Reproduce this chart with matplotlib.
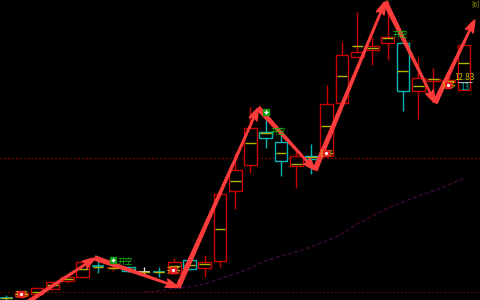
import numpy as np
import matplotlib.pyplot as plt
from matplotlib.patches import Rectangle

plt.rcParams['font.family'] = ['Noto Sans CJK SC', 'DejaVu Sans']

# daily candles (open, close, high, low) and average price of the day
opens = [7.46, 7.50, 7.55, 7.68, 7.88, 7.98, 8.24, 8.19, 8.22, 8.10, 8.11,
         8.08, 8.40, 8.20, 8.38, 10.13, 10.78, 11.60, 11.35, 10.75, 11.00,
         11.00, 12.33, 13.48, 13.65, 13.83, 13.83, 12.63, 12.88, 12.85, 12.65]
closes = [7.45, 7.58, 7.70, 7.85, 7.98, 8.35, 8.22, 8.21, 8.13, 8.10, 8.09,
          8.35, 8.18, 8.35, 10.05, 10.65, 11.70, 11.45, 10.88, 11.00, 10.93,
          12.30, 13.53, 13.60, 13.75, 13.98, 12.63, 12.95, 12.93, 12.90, 13.78]
highs = [7.53, 7.63, 7.73, 7.88, 8.00, 8.38, 8.45, 8.28, 8.25, 8.22, 8.22,
         8.45, 8.48, 8.53, 10.08, 11.08, 12.23, 11.98, 11.60, 11.15, 11.30,
         12.78, 13.85, 14.60, 13.98, 14.88, 13.85, 13.48, 13.20, 13.15, 13.78]
lows = [7.40, 7.45, 7.53, 7.65, 7.83, 7.95, 8.08, 8.13, 8.10, 8.00, 7.98,
        8.05, 8.15, 7.98, 8.23, 9.68, 10.58, 11.20, 10.50, 10.20, 10.55,
        10.98, 12.33, 13.48, 13.28, 13.40, 12.13, 11.93, 12.58, 12.83, 12.65]
avg_price = [7.45, 7.55, 7.60, 7.78, 7.93, 8.18, 8.22, 8.20, 8.18, 8.10, 8.10,
             8.25, 8.28, 8.30, 9.18, 10.38, 11.33, 11.58, 11.08, 10.80, 10.98,
             11.75, 13.00, 13.75, 13.70, 13.95, 13.13, 12.75, 12.93, 12.88, 13.33]

# long moving average (starts at candle 9)
ma_start = 9
ma_vals = [7.60, 7.63, 7.68, 7.73, 7.80, 7.93, 8.05, 8.20, 8.38, 8.50, 8.60,
           8.73, 8.88, 9.05, 9.30, 9.50, 9.70, 9.85, 10.00, 10.13, 10.28, 10.45]

# zigzag arrow turning points (candle position, price)
zig_x = [-0.4, 5.8, 11.25, 16.5, 20.23, 24.82, 28.1, 30.7]
zig_y = [6.90, 8.45, 7.72, 12.20, 10.65, 14.85, 12.33, 14.40]

# signals
long_idx = [1, 11, 21, 29]
long_label_y = [7.53, 8.13, 11.05, 12.75]
short_idx = [7, 17, 25]
short_label_y = [8.35, 11.60, 14.03]

level_hi = 10.95
level_lo = 7.60
last_price = '12.83'
last_vol = '13'

RED = '#c80000'
CYAN = '#00b4b4'
OLIVE = '#b4b400'
ARROW = '#ff3c3c'

fig = plt.figure(figsize=(4.8, 3.0), dpi=100)
fig.patch.set_facecolor('black')
ax = fig.add_axes([0, 0, 1, 1])
ax.set_facecolor('black')
ax.set_xlim(-0.426, 31.05)
ax.set_ylim(7.4, 14.9)
ax.axis('off')

w = 0.84
for i in range(len(opens)):
    o, c, h, l = opens[i], closes[i], highs[i], lows[i]
    if c > o:
        col = RED
    elif c < o:
        col = CYAN
    else:
        col = '#e6e6e6'
    ax.vlines(i, l, h, color=col, lw=1, zorder=1)
    if abs(c - o) < 0.03:
        ax.hlines(o, i - w / 2, i + w / 2, color=col, lw=1.2, zorder=2)
    else:
        ax.add_patch(Rectangle((i - w / 2, min(o, c)), w, abs(c - o),
                               facecolor='black', edgecolor=col, lw=1, zorder=2))
    ax.hlines(avg_price[i], i - w / 2 + 0.06, i + w / 2 - 0.06, color=OLIVE, lw=1, zorder=3)

ax.axhline(level_hi, color='#8c0000', lw=0.8, ls=(0, (1.5, 2)), zorder=0)
ax.axhline(level_lo, color='#6e0000', lw=0.8, ls=(0, (1.5, 2)), zorder=0)

ma_x = np.arange(ma_start, ma_start + len(ma_vals))
ax.plot(ma_x, ma_vals, color='#3a0a36', lw=1, ls=(0, (3, 1.5)), zorder=0)

for k in range(len(zig_x) - 1):
    ax.annotate('', xy=(zig_x[k + 1], zig_y[k + 1]), xytext=(zig_x[k], zig_y[k]),
                arrowprops=dict(arrowstyle='fancy,head_length=0.9,head_width=0.6,tail_width=0.3',
                                color=ARROW, shrinkA=0, shrinkB=0, mutation_scale=10),
                zorder=5)

for j, i in enumerate(short_idx):
    ax.plot(i, highs[i] + 0.12, marker='s', ms=5, color='#109a10', zorder=6)
    ax.plot(i, highs[i] + 0.12, marker='+', ms=3, mew=1, color='white', zorder=7)
    ax.text(i + 0.8, short_label_y[j], '开空', color='#10c010', fontsize=5.5,
            ha='center', va='center', zorder=6)

for j, i in enumerate(long_idx):
    ax.text(i, long_label_y[j], '开多', color='#e0c000', fontsize=5.3,
            ha='center', va='center', zorder=6)
    ax.plot(i - 0.05, long_label_y[j] + 0.02, marker='s', ms=4.5, color='#e02020', zorder=7)
    ax.plot(i - 0.05, long_label_y[j] + 0.02, marker='.', ms=2.5, color='white', zorder=8)

ax.text(30.05, 12.95, last_price, color='#d2c800', fontsize=5.8, ha='center', va='center', zorder=6)
ax.hlines(12.84, 29.55, 30.55, color='#b0b0b0', lw=0.8, zorder=6)
ax.text(30.05, 12.72, last_vol, color=CYAN, fontsize=5.8, ha='center', va='center', zorder=6)
ax.text(0.999, 0.998, '[6]', color='#a0a000', fontsize=5, ha='right', va='top',
        transform=ax.transAxes)

fig.savefig('out.png', dpi=100, facecolor='black')
